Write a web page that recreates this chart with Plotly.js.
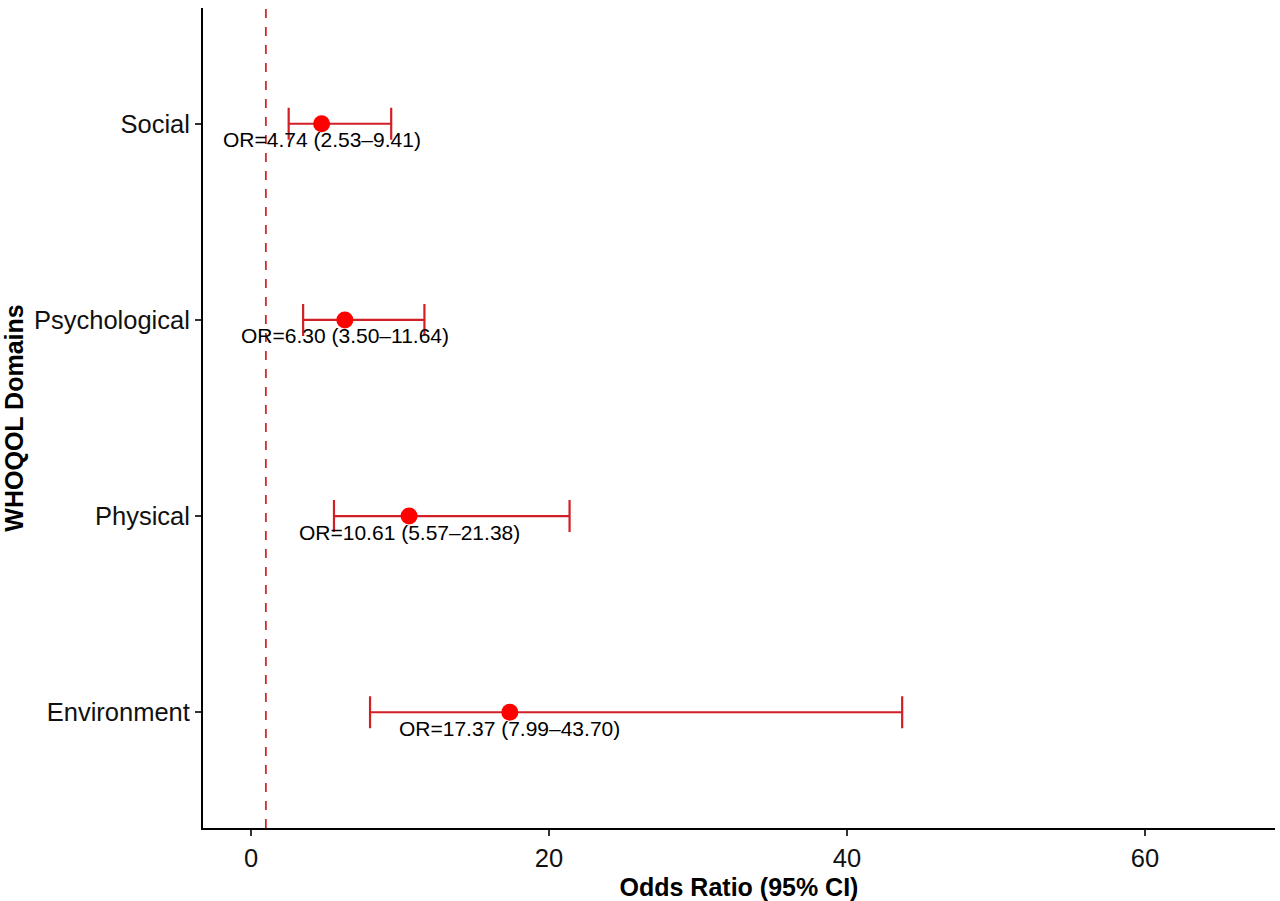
<!DOCTYPE html>
<html>
<head>
<meta charset="utf-8">
<script src="https://cdn.plot.ly/plotly-3.0.1.min.js"></script>
<style>
  html, body { margin: 0; padding: 0; background: #ffffff; }
  #plot { width: 1280px; height: 901px; }
</style>
</head>
<body>
<div id="plot"></div>
<script>
// WHOQOL domains, bottom to top
const domains = ['Environment', 'Physical', 'Psychological', 'Social'];
const oddsRatio = [17.37, 10.61, 6.30, 4.74];
const ciLower = [7.99, 5.57, 3.50, 2.53];
const ciUpper = [43.70, 21.38, 11.64, 9.41];
const refLine = 1;

const fmt = (v) => v.toFixed(2);
const labels = domains.map((d, i) =>
    'OR=' + fmt(oddsRatio[i]) + ' (' + fmt(ciLower[i]) + '\u2013' + fmt(ciUpper[i]) + ')');

const errorBars = {
    x: oddsRatio,
    y: domains,
    type: 'scatter',
    mode: 'markers',
    marker: { color: 'rgba(0,0,0,0)', size: 1 },
    error_x: {
        type: 'data',
        symmetric: false,
        array: ciUpper.map((u, i) => u - oddsRatio[i]),
        arrayminus: oddsRatio.map((o, i) => o - ciLower[i]),
        color: '#d21f26',
        thickness: 2.2,
        width: 16,
    },
    hoverinfo: 'skip',
    showlegend: false,
};

const points = {
    x: oddsRatio,
    y: domains,
    type: 'scatter',
    mode: 'markers',
    marker: { color: '#ff0000', size: 17 },
    text: labels,
    hovertemplate: '%{y}: %{text}<extra></extra>',
    showlegend: false,
};

const annotations = domains.map((d, i) => ({
    x: oddsRatio[i],
    y: d,
    xref: 'x',
    yref: 'y',
    text: labels[i],
    showarrow: false,
    xanchor: 'center',
    yanchor: 'middle',
    yshift: -16,
    font: { family: 'Liberation Sans, Arial, sans-serif', size: 21, color: '#000000' },
}));

const layout = {
    width: 1280,
    height: 901,
    showlegend: false,
    plot_bgcolor: '#ffffff',
    paper_bgcolor: '#ffffff',
    font: { family: 'Liberation Sans, Arial, sans-serif', color: '#000000' },
    margin: { l: 203, r: 5, t: 8, b: 73 },
    xaxis: {
        range: [-3.22, 68.72],
        tickvals: [0, 20, 40, 60],
        showgrid: false,
        zeroline: false,
        showline: true,
        linecolor: '#000000',
        linewidth: 2,
        ticks: 'outside',
        ticklen: 6,
        tickwidth: 1.5,
        tickcolor: '#333333',
        tickfont: { size: 25.5, color: '#111111' },
        title: {
            text: '<b>Odds Ratio (95% CI)</b>',
            font: { size: 25, color: '#000000' },
            standoff: 8,
        },
    },
    yaxis: {
        type: 'category',
        categoryorder: 'array',
        categoryarray: domains,
        range: [-0.59, 3.59],
        showgrid: false,
        zeroline: false,
        showline: true,
        linecolor: '#000000',
        linewidth: 2,
        ticks: 'outside',
        ticklen: 6,
        tickwidth: 1.5,
        tickcolor: '#333333',
        tickfont: { size: 25.5, color: '#111111' },
        title: {
            text: '<b>WHOQOL Domains</b>',
            font: { size: 25, color: '#000000' },
            standoff: 8,
        },
    },
    shapes: [{
        type: 'line',
        xref: 'x',
        yref: 'paper',
        x0: refLine,
        x1: refLine,
        y0: 0,
        y1: 1,
        line: { color: '#d42a2a', width: 1.8, dash: '9px,9px' },
    }],
    annotations: annotations,
};

Plotly.newPlot('plot', [errorBars, points], layout, {
    displayModeBar: false,
    responsive: false,
});
</script>
</body>
</html>
